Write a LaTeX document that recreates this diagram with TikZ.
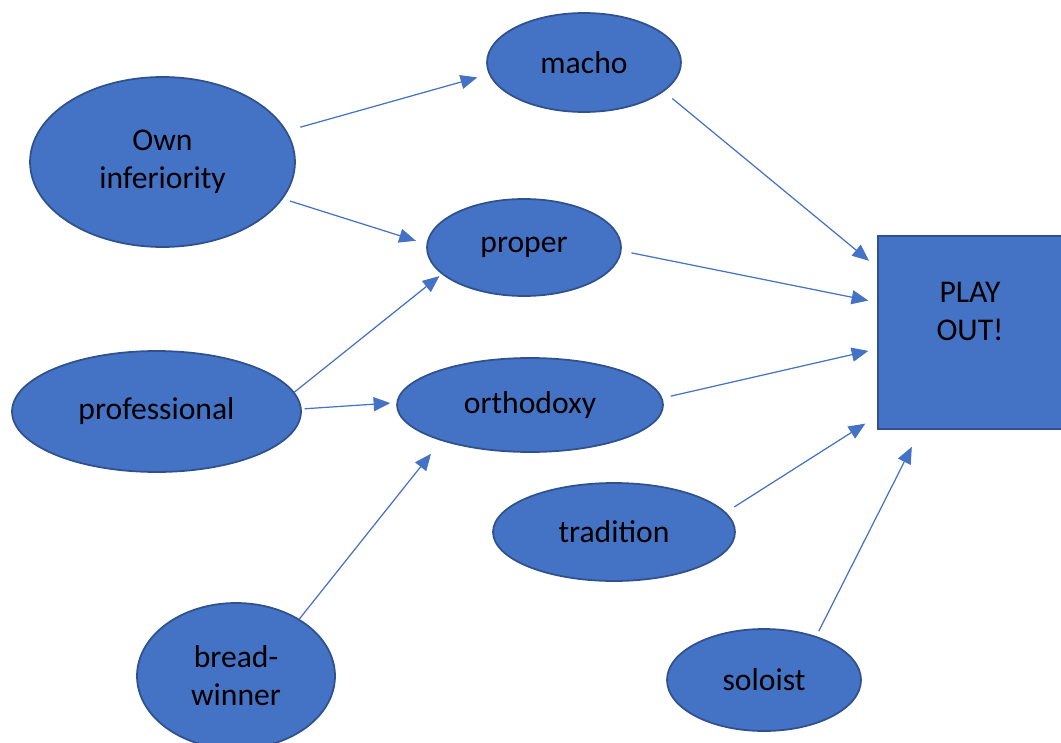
\documentclass[tikz,border=0pt]{standalone}
\usepackage{fontspec}
\setmainfont{Carlito}
\usetikzlibrary{shapes.geometric,arrows.meta}
\definecolor{boxblue}{HTML}{4472C4}
\definecolor{edgeblue}{HTML}{2F528F}

\begin{document}
\begin{tikzpicture}[x=0.02cm, y=-0.02cm,
  blob/.style={ellipse, draw=edgeblue, fill=boxblue, line width=1pt, inner sep=0pt,
    align=center, font=\fontsize{18}{21.6}\selectfont},
  link/.style={draw=boxblue, line width=0.7pt, -{Triangle[length=9.5pt, width=8pt]}}]

  % page size of the original
  \useasboundingbox (0, 0) rectangle (1061, 743);

  \node[blob, minimum width=53mm, minimum height=34mm] (own) at (162.5, 162) {Own\\inferiority};
  \node[blob, minimum width=38.8mm, minimum height=19.8mm] (macho) at (584, 62.5) {macho};
  \node[blob, minimum width=38.8mm, minimum height=19.4mm] (proper) at (524, 247.5) {proper};
  \node[blob, minimum width=57.8mm, minimum height=24.2mm] (prof) at (156.5, 411.5) {professional};
  \node[blob, minimum width=53.2mm, minimum height=18.8mm] (ortho) at (530, 405) {orthodoxy};
  \node[blob, minimum width=48.4mm, minimum height=19.6mm] (trad) at (614, 532) {tradition};
  \node[blob, minimum width=39.6mm, minimum height=29.2mm] (bread) at (236, 676) {bread-\\winner};
  \node[blob, minimum width=38.8mm, minimum height=20.4mm] (solo) at (764, 680) {soloist};

  \node[draw=edgeblue, fill=boxblue, line width=1pt, minimum width=36.8mm, minimum height=38.6mm] (play) at (970, 332.5) {};
  \node[align=center, font=\fontsize{18}{21.6}\selectfont] (playtext) at ([yshift=4.2mm]play.center) {PLAY\\OUT!};

  \draw[link, shorten <=2.8mm, shorten >=2.4mm] (own.14) -- (macho.187);
  \draw[link, shorten <=1.5mm, shorten >=2.2mm] (own.343) -- (proper.178);
  \draw[link, shorten >=0.6mm] (prof.8) -- (proper.198);
  \draw[link, shorten <=0.6mm, shorten >=1.2mm] (prof.1) -- (ortho.179);
  \draw[link, shorten >=3.3mm] (bread.42) -- (ortho.202);

  \draw[link, shorten <=2.2mm, shorten >=2.1mm] (macho.340) -- (play.145);
  \draw[link, shorten <=2mm, shorten >=1.8mm] (proper.358) -- (play.162);
  \draw[link, shorten <=1.7mm, shorten >=1.8mm] (ortho.3) -- (play.190);
  \draw[link, shorten <=2mm, shorten >=2.8mm] (trad.10) -- (play.222);
  \draw[link, shorten <=1.1mm, shorten >=3.8mm] (solo.40) -- (play.243);

\end{tikzpicture}
\end{document}
